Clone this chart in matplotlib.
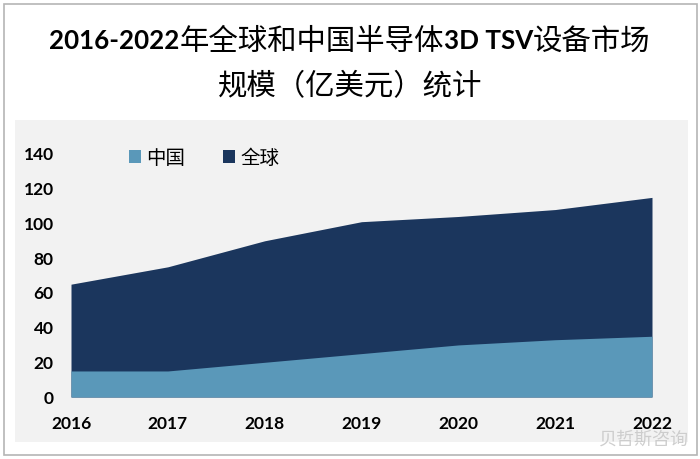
import matplotlib
matplotlib.use("Agg")
import matplotlib.pyplot as plt
from matplotlib.patches import Rectangle

years = [2016, 2017, 2018, 2019, 2020, 2021, 2022]
china = [15, 15, 20, 25, 30, 33, 35]
world = [65, 75, 90, 101, 104, 108, 115]
yticks = [0, 20, 40, 60, 80, 100, 120, 140]
title_line1 = [("2016-2022", "l"), ("年全球和中国半导体", "c"), ("3D TSV", "l"), ("设备市场", "c")]
title_line2 = "规模（亿美元）统计"
watermark = "贝哲斯咨询"

W, H = 700, 459
LAT = "Lato"
CJK = "Noto Sans CJK SC"
fig = plt.figure(figsize=(W / 100, H / 100), dpi=100, facecolor="white")

def fx(x): return x / W
def fy(y): return 1 - y / H

# outer frame and grey panel
fig.add_artist(Rectangle((fx(3.5), fy(455)), 693 / W, 451 / H, transform=fig.transFigure,
                         fc="white", ec="#b5b5b5", lw=1.2, zorder=-5))
fig.add_artist(Rectangle((fx(15), fy(441.5)), 673 / W, 322 / H, transform=fig.transFigure,
                         fc="#f2f2f2", ec="none", zorder=-4))

ax = fig.add_axes([fx(71), fy(397), 581 / W, 243 / H])
ax.patch.set_alpha(0)
ax.fill_between(years, 0, world, color="#1b365d", lw=0, label="全球")
ax.fill_between(years, 0, china, color="#5a98b9", lw=0, label="中国")
ax.set_xlim(2016, 2022)
ax.set_ylim(0, 140)
ax.set_yticks(yticks)
ax.set_xticks(years)
ax.tick_params(length=0)
ax.tick_params(axis="y", pad=12.5)
ax.tick_params(axis="x", pad=14)
for lab in ax.get_xticklabels() + ax.get_yticklabels():
    lab.set_fontfamily(LAT)
    lab.set_fontweight("bold")
    lab.set_fontsize(12.5)
    lab.set_color("black")
for s in ax.spines.values():
    s.set_visible(False)

# legend
handles, labels = ax.get_legend_handles_labels()
ax.legend(handles[::-1], labels[::-1], ncol=2, frameon=False,
          loc="center left", bbox_to_anchor=(fx(129), fy(158)), bbox_transform=fig.transFigure,
          prop={"family": CJK, "size": 14}, handlelength=0.6, handleheight=0.6,
          handletextpad=0.3, columnspacing=1.95, borderpad=0, borderaxespad=0)

# title: bold latin runs and regular CJK runs placed end to end
fig.canvas.draw()
rend = fig.canvas.get_renderer()
pieces = []
total = 0
for s, kind in title_line1:
    t = fig.text(0, fy(41), s, fontsize=18.7 if kind == "l" else 21.2, va="center", color="black",
                 family=LAT if kind == "l" else CJK,
                 fontweight="bold" if kind == "l" else "normal")
    w = t.get_window_extent(rend).width
    pieces.append((t, w))
    total += w
x = 350 - total / 2
for t, w in pieces:
    t.set_x(x / W)
    x += w
fig.text(fx(350), fy(87), title_line2, fontsize=21.2, family=CJK, ha="center", va="center", color="black")
fig.text(fx(599), fy(440), watermark, fontsize=13, family=CJK, ha="left", va="center",
         color="#c9c9c9", alpha=0.9)

fig.savefig("out.png", dpi=100, facecolor="white")
